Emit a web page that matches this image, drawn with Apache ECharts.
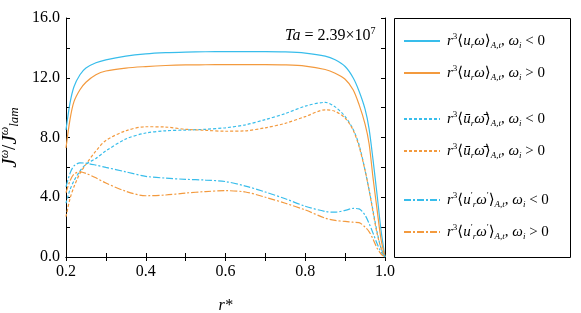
<!DOCTYPE html>
<html>
<head>
<meta charset="utf-8">
<script src="https://cdn.jsdelivr.net/npm/echarts@6/dist/echarts.min.js"></script>
<style>html,body{margin:0;padding:0;background:#fff}#c{width:581px;height:313px}</style>
</head>
<body>
<div id="c"></div>
<script>
// r* positions
var rValues = [0.2, 0.21, 0.22, 0.235, 0.25, 0.275, 0.3, 0.35, 0.4, 0.45, 0.5, 0.55, 0.6, 0.65, 0.7, 0.75, 0.8, 0.85, 0.875, 0.9, 0.92, 0.935, 0.95, 0.96, 0.97, 0.98, 0.99, 1.0];
// r^3 <u_r w>_{A,t}, w_i < 0
var totalNeg = [8.5, 10.3, 11.4, 12.2, 12.65, 13.0, 13.2, 13.45, 13.6, 13.68, 13.72, 13.74, 13.75, 13.75, 13.75, 13.73, 13.65, 13.45, 13.2, 12.75, 12.0, 11.1, 9.9, 8.6, 6.5, 4.2, 1.8, 0];
// r^3 <u_r w>_{A,t}, w_i > 0
var totalPos = [7.3, 9.2, 10.4, 11.2, 11.7, 12.2, 12.45, 12.65, 12.75, 12.82, 12.86, 12.87, 12.88, 12.88, 12.88, 12.86, 12.78, 12.55, 12.3, 11.9, 11.2, 10.2, 8.9, 7.6, 5.3, 3.2, 1.2, 0];
// mean part, w_i < 0
var meanNeg = [3.6, 4.5, 5.1, 5.75, 6.2, 6.6, 7.1, 7.9, 8.3, 8.45, 8.5, 8.55, 8.65, 8.85, 9.2, 9.6, 10.1, 10.35, 10.05, 9.4, 8.55, 7.5, 5.8, 4.5, 3.1, 1.7, 0.6, 0];
// mean part, w_i > 0
var meanPos = [2.7, 3.9, 4.7, 5.6, 6.2, 7.1, 7.8, 8.45, 8.72, 8.7, 8.55, 8.48, 8.42, 8.45, 8.65, 8.95, 9.4, 9.85, 9.75, 9.3, 8.5, 7.4, 5.8, 4.5, 3.0, 1.6, 0.6, 0];
// fluctuating part, w_i < 0
var flucNeg = [4.7, 5.6, 6.1, 6.3, 6.28, 6.15, 6.0, 5.7, 5.4, 5.28, 5.2, 5.15, 5.05, 4.75, 4.35, 3.9, 3.4, 3.05, 3.0, 3.12, 3.25, 3.22, 2.8, 2.25, 1.6, 0.9, 0.35, 0];
// fluctuating part, w_i > 0
var flucPos = [4.3, 5.1, 5.55, 5.7, 5.6, 5.3, 4.95, 4.4, 4.1, 4.15, 4.28, 4.38, 4.44, 4.35, 4.0, 3.6, 3.15, 2.6, 2.45, 2.38, 2.33, 2.3, 2.0, 1.7, 1.2, 0.6, 0.2, 0];

var seriesNames = ['totNeg', 'totPos', 'meanNeg', 'meanPos', 'flucNeg', 'flucPos'];
var legendLabels = {
  totNeg: '{i|r}{sup|3}⟨{i|u}{sub|r}{i|ω}⟩{sub|A,t}, {i|ω}{sub|i} < 0',
  totPos: '{i|r}{sup|3}⟨{i|u}{sub|r}{i|ω}⟩{sub|A,t}, {i|ω}{sub|i} > 0',
  meanNeg: '{i|r}{sup|3}⟨{i|ū}{sub|r}{i|ω̄}⟩{sub|A,t}, {i|ω}{sub|i} < 0',
  meanPos: '{i|r}{sup|3}⟨{i|ū}{sub|r}{i|ω̄}⟩{sub|A,t}, {i|ω}{sub|i} > 0',
  flucNeg: '{i|r}{sup|3}⟨{i|u}{sup|′}{sub|r}{i|ω}{sup|′}⟩{sub|A,t}, {i|ω}{sub|i} < 0',
  flucPos: '{i|r}{sup|3}⟨{i|u}{sup|′}{sub|r}{i|ω}{sup|′}⟩{sub|A,t}, {i|ω}{sub|i} > 0'
};
var dataSets = [totalNeg, totalPos, meanNeg, meanPos, flucNeg, flucPos];

var BLUE = '#38BDEB', ORANGE = '#F39A3E';
var FONT = "'Liberation Serif', 'DejaVu Serif', serif";
var colors = [BLUE, ORANGE, BLUE, ORANGE, BLUE, ORANGE];
var dashes = ['solid', 'solid', [3, 2], [3, 2], [7, 2, 2, 2], [7, 2, 2, 2]];

var richStyles = {
  i: {fontStyle: 'italic', fontFamily: FONT, fontSize: 15, color: '#000'},
  sup: {fontSize: 9, fontFamily: FONT, verticalAlign: 'top', color: '#000', lineHeight: 18},
  sub: {fontSize: 9, fontFamily: FONT, fontStyle: 'italic', verticalAlign: 'bottom', color: '#000', lineHeight: 18}
};

function pairs(arr) {
  return rValues.map(function (r, k) { return [r, arr[k]]; });
}

var series = seriesNames.map(function (n, k) {
  return {
    name: n,
    type: 'line',
    data: pairs(dataSets[k]),
    symbol: 'none',
    smooth: 0.3,
    lineStyle: {color: colors[k], width: 1.2, type: dashes[k]},
    itemStyle: {color: colors[k]},
    xAxisIndex: 0, yAxisIndex: 0
  };
});

function makeLegend(names, top) {
  return {
    data: names,
    orient: 'vertical',
    left: 403,
    top: top,
    itemWidth: 36,
    itemHeight: 14,
    itemGap: 14,
    padding: 0,
    itemStyle: {opacity: 0},
    formatter: function (n) { return legendLabels[n]; },
    textStyle: {fontFamily: FONT, fontSize: 15, color: '#000', rich: richStyles, padding: [0, 0, 0, 2]}
  };
}

var tickCommon = {
  axisLine: {show: true, lineStyle: {color: '#000', width: 1}},
  axisTick: {show: true, inside: true, length: 4, lineStyle: {color: '#000'}},
  minorTick: {show: true, splitNumber: 2, length: 4, lineStyle: {color: '#000'}},
  splitLine: {show: false}
};

var option = {
  animation: false,
  backgroundColor: '#fff',
  grid: {left: 66, right: 196, top: 18, bottom: 56, containLabel: false, outerBoundsMode: 'none'},
  legend: [
    makeLegend(['totNeg', 'totPos'], 32),
    makeLegend(['meanNeg', 'meanPos'], 110),
    makeLegend(['flucNeg', 'flucPos'], 191)
  ],
  title: {
    text: '{i|Ta} = 2.39×10{sup|7}',
    left: 280, top: 21,
    textStyle: {fontFamily: FONT, fontSize: 16, fontWeight: 'normal', color: '#000', rich: {
      i: {fontStyle: 'italic', fontFamily: FONT, fontSize: 16, color: '#000'},
      sup: {fontSize: 10, fontFamily: FONT, verticalAlign: 'top', color: '#000', lineHeight: 20}
    }}
  },
  graphic: [{
    type: 'rect',
    shape: {x: 394.5, y: 18.5, width: 176, height: 239},
    style: {fill: 'none', stroke: '#000', lineWidth: 1},
    silent: true
  }],
  xAxis: [
    Object.assign({
      type: 'value', min: 0.2, max: 1.0, interval: 0.2, position: 'bottom',
      name: 'r*', nameLocation: 'middle', nameGap: 41,
      nameTextStyle: {fontFamily: FONT, fontStyle: 'italic', fontSize: 16, color: '#000'},
      axisLabel: {fontFamily: FONT, fontSize: 16, color: '#000', margin: 7,
        formatter: function (v) { return v.toFixed(1); }}
    }, tickCommon),
    Object.assign({
      type: 'value', min: 0.2, max: 1.0, interval: 0.2, position: 'top',
      axisLabel: {show: false}
    }, tickCommon)
  ],
  yAxis: [
    Object.assign({
      type: 'value', min: 0, max: 16, interval: 4, position: 'left',
      name: '{i|J}{sup|ω}/{i|J}{sup|ω}{sub|lam}', nameLocation: 'middle', nameGap: 35, nameRotate: 90,
      nameTextStyle: {fontFamily: FONT, fontSize: 19, color: '#000', rich: {
        i: {fontStyle: 'italic', fontFamily: FONT, fontSize: 21, color: '#000'},
        sup: {fontSize: 12, fontStyle: 'italic', fontFamily: FONT, verticalAlign: 'top', color: '#000', lineHeight: 22},
        sub: {fontSize: 13, fontFamily: FONT, fontStyle: 'italic', verticalAlign: 'bottom', color: '#000', lineHeight: 22}
      }},
      axisLabel: {fontFamily: FONT, fontSize: 16, color: '#000', margin: 6,
        formatter: function (v) { return v.toFixed(1); }}
    }, tickCommon),
    Object.assign({
      type: 'value', min: 0, max: 16, interval: 4, position: 'right',
      axisLabel: {show: false}
    }, tickCommon)
  ],
  series: series
};

var chart = echarts.init(document.getElementById('c'), null, {renderer: 'canvas'});
chart.setOption(option);
</script>
</body>
</html>
